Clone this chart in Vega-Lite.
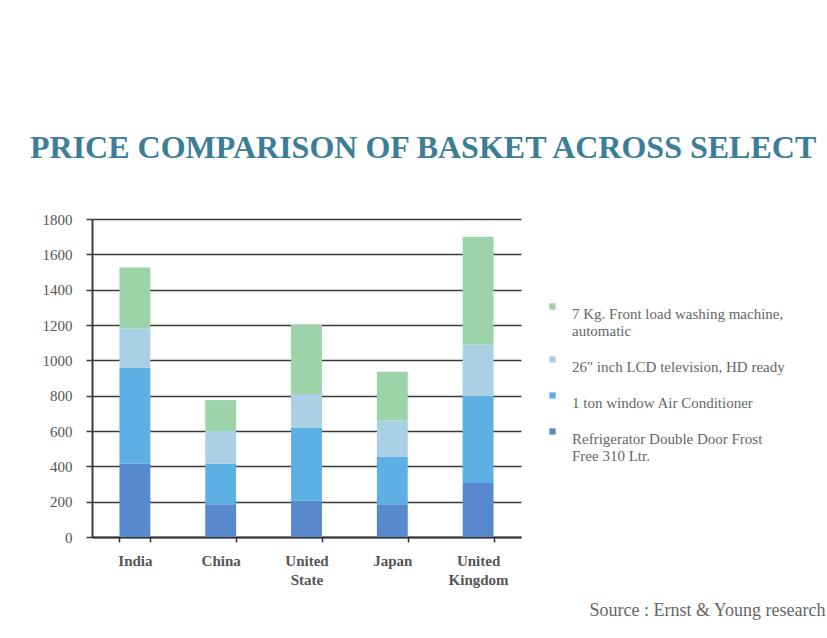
{
  "$schema": "https://vega.github.io/schema/vega-lite/v6.json",
  "autosize": {"type": "none"},
  "padding": {"left": 92, "top": 219, "right": 306, "bottom": 101},
  "width": 429,
  "height": 318,
  "background": "white",
  "title": {
    "text": "PRICE COMPARISON OF BASKET ACROSS SELECT",
    "anchor": "start",
    "frame": "group",
    "dx": -62,
    "offset": 47,
    "font": "Liberation Serif",
    "fontSize": 32,
    "fontWeight": "bold",
    "color": "#3c7d98"
  },
  "data": {
    "values": [
      {"country": "India", "item": "Refrigerator Double Door Frost Free 310 Ltr.", "idx": 1, "price": 415},
      {"country": "India", "item": "1 ton window Air Conditioner", "idx": 2, "price": 545},
      {"country": "India", "item": "26\" inch LCD television, HD ready", "idx": 3, "price": 220},
      {"country": "India", "item": "7 Kg. Front load washing machine, automatic", "idx": 4, "price": 345},
      {"country": "China", "item": "Refrigerator Double Door Frost Free 310 Ltr.", "idx": 1, "price": 185},
      {"country": "China", "item": "1 ton window Air Conditioner", "idx": 2, "price": 230},
      {"country": "China", "item": "26\" inch LCD television, HD ready", "idx": 3, "price": 185},
      {"country": "China", "item": "7 Kg. Front load washing machine, automatic", "idx": 4, "price": 175},
      {"country": "United State", "item": "Refrigerator Double Door Frost Free 310 Ltr.", "idx": 1, "price": 205},
      {"country": "United State", "item": "1 ton window Air Conditioner", "idx": 2, "price": 415},
      {"country": "United State", "item": "26\" inch LCD television, HD ready", "idx": 3, "price": 190},
      {"country": "United State", "item": "7 Kg. Front load washing machine, automatic", "idx": 4, "price": 390},
      {"country": "Japan", "item": "Refrigerator Double Door Frost Free 310 Ltr.", "idx": 1, "price": 185},
      {"country": "Japan", "item": "1 ton window Air Conditioner", "idx": 2, "price": 270},
      {"country": "Japan", "item": "26\" inch LCD television, HD ready", "idx": 3, "price": 205},
      {"country": "Japan", "item": "7 Kg. Front load washing machine, automatic", "idx": 4, "price": 275},
      {"country": "United Kingdom", "item": "Refrigerator Double Door Frost Free 310 Ltr.", "idx": 1, "price": 305},
      {"country": "United Kingdom", "item": "1 ton window Air Conditioner", "idx": 2, "price": 495},
      {"country": "United Kingdom", "item": "26\" inch LCD television, HD ready", "idx": 3, "price": 290},
      {"country": "United Kingdom", "item": "7 Kg. Front load washing machine, automatic", "idx": 4, "price": 610}
    ]
  },
  "mark": {"type": "bar"},
  "encoding": {
    "x": {
      "field": "country",
      "type": "nominal",
      "sort": ["India", "China", "United State", "Japan", "United Kingdom"],
      "scale": {"paddingInner": 0.64, "paddingOuter": 0.32},
      "axis": {
        "labelAngle": 0,
        "labelExpr": "split(datum.label, ' ')",
        "labelFont": "Liberation Serif",
        "labelFontWeight": "bold",
        "labelFontSize": 15,
        "labelColor": "#555555",
        "labelPadding": 11,
        "labelLineHeight": 19,
        "tickBand": "extent",
        "tickColor": "#333333",
        "tickSize": 5,
        "tickWidth": 1.5,
        "domainColor": "#333333",
        "domainWidth": 2,
        "title": "Source : Ernst & Young research",
        "titleFont": "Liberation Serif",
        "titleFontWeight": "normal",
        "titleFontSize": 18,
        "titleColor": "#666666",
        "titleAlign": "right",
        "titleAnchor": null,
        "titleX": 733,
        "titleY": 73,
        "titleBaseline": "middle"
      }
    },
    "y": {
      "field": "price",
      "type": "quantitative",
      "stack": "zero",
      "scale": {"domain": [0, 1800]},
      "axis": {
        "values": [0, 200, 400, 600, 800, 1000, 1200, 1400, 1600, 1800],
        "format": "d",
        "title": null,
        "labelFont": "Liberation Serif",
        "labelFontSize": 15,
        "labelColor": "#555555",
        "labelPadding": 14,
        "grid": true,
        "gridColor": "#3a3a3a",
        "gridWidth": 1.5,
        "tickColor": "#3a3a3a",
        "tickSize": 6,
        "tickWidth": 1.5,
        "domainColor": "#3a3a3a",
        "domainWidth": 2
      }
    },
    "color": {
      "field": "item",
      "type": "nominal",
      "scale": {
        "domain": ["7 Kg. Front load washing machine, automatic", "26\" inch LCD television, HD ready", "1 ton window Air Conditioner", "Refrigerator Double Door Frost Free 310 Ltr."],
        "range": ["#9dd3a8", "#a9d0e4", "#5cb0e3", "#5889cd"]
      },
      "legend": {
        "title": null,
        "orient": "none",
        "legendX": 453,
        "legendY": 80,
        "labelExpr": "datum.label == '7 Kg. Front load washing machine, automatic' ? ['7 Kg. Front load washing machine,', 'automatic'] : datum.label == 'Refrigerator Double Door Frost Free 310 Ltr.' ? ['Refrigerator Double Door Frost', 'Free 310 Ltr.'] : datum.label",
        "labelFont": "Liberation Serif",
        "labelFontSize": 15,
        "labelColor": "#666666",
        "labelLimit": 300,
        "labelBaseline": "top",
        "labelOffset": 12,
        "symbolType": "square",
        "symbolSize": 40,
        "symbolOffset": 0,
        "rowPadding": 13
      }
    },
    "order": {"field": "idx", "type": "quantitative", "sort": "ascending"}
  },
  "config": {
    "view": {"stroke": null},
    "axis": {"labelFlush": false}
  }
}
